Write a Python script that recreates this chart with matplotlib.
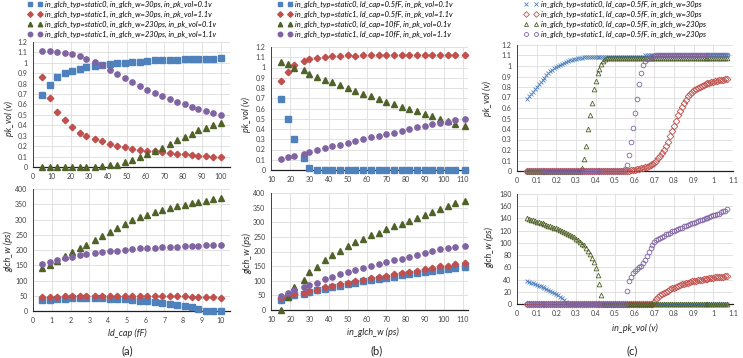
import matplotlib
matplotlib.use('Agg')
import matplotlib.pyplot as plt
from matplotlib.ticker import MultipleLocator, FuncFormatter

plt.rcParams['font.family'] = ['Lato', 'DejaVu Sans']

# ---------------- data: panel (a) ----------------
ld_cap_top = [5, 9, 13, 17, 21, 25, 28, 33, 37, 41, 45, 49, 53, 57, 61, 65, 69, 73, 77, 81, 85, 88, 92, 96, 100]
ld_cap = [0.5, 0.9, 1.3, 1.7, 2.1, 2.5, 2.8, 3.3, 3.7, 4.1, 4.5, 4.9, 5.3, 5.7, 6.1, 6.5, 6.9, 7.3, 7.7, 8.1,
          8.5, 8.8, 9.2, 9.6, 10.0]
a_pk_s0_30 = [0.69, 0.79, 0.86, 0.90, 0.92, 0.94, 0.96, 0.97, 0.98, 0.99, 1.00, 1.00, 1.01, 1.01, 1.02, 1.03, 1.03,
              1.03, 1.03, 1.04, 1.04, 1.04, 1.04, 1.04, 1.05]
a_pk_s1_30 = [0.86, 0.665, 0.53, 0.45, 0.38, 0.33, 0.295, 0.265, 0.245, 0.22, 0.20, 0.19, 0.175, 0.165, 0.155, 0.15,
              0.14, 0.13, 0.125, 0.12, 0.115, 0.11, 0.11, 0.10, 0.095]
a_pk_s0_230 = [0, 0, 0, 0, 0, 0, 0, 0.0, 0.005, 0.015, 0.02, 0.045, 0.065, 0.095, 0.12, 0.15, 0.185, 0.22, 0.26,
               0.29, 0.32, 0.355, 0.375, 0.40, 0.425]
a_pk_s1_230 = [1.11, 1.11, 1.10, 1.095, 1.08, 1.065, 1.04, 1.01, 0.975, 0.93, 0.89, 0.855, 0.82, 0.78, 0.74, 0.71,
               0.68, 0.65, 0.625, 0.60, 0.575, 0.555, 0.54, 0.52, 0.50]
a_w_s0_30 = [35, 37, 39, 40, 41, 41, 41, 41, 41, 40, 39, 38, 36, 34, 32, 30, 27, 24, 21, 17, 12, 7, 0, 0, 0]
a_w_s1_30 = [45, 46, 47, 48, 48, 49, 49, 49, 49, 49, 49, 49, 49, 49, 49, 49, 49, 49, 48, 48, 47, 47, 46, 45, 44]
a_w_s0_230 = [140, 152, 165, 180, 192, 205, 218, 233, 245, 258, 272, 285, 297, 307, 315, 323, 330, 337, 343, 348,
              353, 358, 362, 366, 370]
a_w_s1_230 = [155, 162, 168, 173, 178, 182, 186, 190, 193, 196, 198, 201, 203, 205, 207, 208, 209, 210, 211, 212,
              213, 214, 215, 216, 218]
a_labels = ['in_glch_typ=static0, in_glch_w=30ps, in_pk_vol=0.1v',
            'in_glch_typ=static1, in_glch_w=30ps, in_pk_vol=1.1v',
            'in_glch_typ=static0, in_glch_w=230ps, in_pk_vol=0.1v',
            'in_glch_typ=static1, in_glch_w=230ps, in_pk_vol=1.1v']

# ---------------- data: panel (b) ----------------
in_glch_w = [15, 19, 22, 27, 30, 34, 38, 42, 46, 50, 54, 58, 62, 66, 70, 74, 78, 82, 86, 90, 94, 98, 102, 106, 111]
b_pk_s0_05 = [0.695, 0.50, 0.30, 0.115, 0.02, 0, 0, 0, 0, 0, 0, 0, 0, 0, 0, 0, 0, 0, 0, 0, 0, 0, 0, 0, 0]
b_pk_s1_05 = [0.87, 0.96, 1.02, 1.06, 1.08, 1.09, 1.10, 1.11, 1.11, 1.12, 1.115, 1.12, 1.12, 1.12, 1.12, 1.12, 1.12,
              1.12, 1.12, 1.12, 1.12, 1.12, 1.12, 1.12, 1.12]
b_pk_s0_10 = [1.055, 1.03, 1.0, 0.975, 0.94, 0.91, 0.88, 0.855, 0.83, 0.80, 0.77, 0.745, 0.72, 0.69, 0.665, 0.64,
              0.615, 0.595, 0.575, 0.545, 0.525, 0.50, 0.475, 0.45, 0.43]
b_pk_s1_10 = [0.105, 0.125, 0.14, 0.155, 0.175, 0.195, 0.215, 0.23, 0.245, 0.265, 0.28, 0.30, 0.32, 0.335, 0.35,
              0.365, 0.38, 0.40, 0.415, 0.43, 0.445, 0.46, 0.47, 0.485, 0.50]
b_w_s0_05 = [35, 45, 50, 56, 62, 67, 73, 78, 83, 88, 93, 98, 102, 106, 110, 114, 118, 122, 126, 130, 134, 137, 140,
             143, 146]
b_w_s1_05 = [40, 48, 53, 59, 65, 70, 77, 82, 88, 93, 99, 103, 108, 113, 117, 122, 126, 131, 135, 140, 145, 149, 152,
             156, 159]
b_w_s0_10 = [0, 43, 77, 102, 130, 148, 170, 188, 202, 218, 232, 243, 255, 264, 277, 286, 295, 305, 316, 325, 336,
             345, 355, 365, 372]
b_w_s1_10 = [48, 59, 68, 77, 84, 94, 105, 114, 122, 130, 138, 144, 151, 158, 164, 170, 176, 182, 187, 195, 201, 207,
             211, 216, 220]
b_labels = ['in_glch_typ=static0, ld_cap=0.5fF, in_pk_vol=0.1v',
            'in_glch_typ=static1, ld_cap=0.5fF, in_pk_vol=1.1v',
            'in_glch_typ=static0, ld_cap=10fF, in_pk_vol=0.1v',
            'in_glch_typ=static1, ld_cap=10fF, in_pk_vol=1.1v']

# ---------------- data: panel (c) ----------------
in_pk_vol = [0.05, 0.06, 0.07, 0.08, 0.09, 0.10, 0.11, 0.12, 0.13, 0.14,
             0.15, 0.16, 0.17, 0.18, 0.19, 0.20, 0.21, 0.22, 0.23, 0.24,
             0.25, 0.26, 0.27, 0.28, 0.29, 0.30, 0.31, 0.32, 0.33, 0.34,
             0.35, 0.36, 0.37, 0.38, 0.39, 0.40, 0.41, 0.42, 0.43, 0.44,
             0.45, 0.46, 0.47, 0.48, 0.49, 0.50, 0.51, 0.52, 0.53, 0.54,
             0.55, 0.56, 0.57, 0.58, 0.59, 0.60, 0.61, 0.62, 0.63, 0.64,
             0.65, 0.66, 0.67, 0.68, 0.69, 0.70, 0.71, 0.72, 0.73, 0.74,
             0.75, 0.76, 0.77, 0.78, 0.79, 0.80, 0.81, 0.82, 0.83, 0.84,
             0.85, 0.86, 0.87, 0.88, 0.89, 0.90, 0.91, 0.92, 0.93, 0.94,
             0.95, 0.96, 0.97, 0.98, 0.99, 1.00, 1.01, 1.02, 1.03, 1.04,
             1.05, 1.06, 1.07]
c_pk_s0_30 = [0.69, 0.71, 0.73, 0.75, 0.78, 0.80, 0.83, 0.85, 0.87, 0.89,
              0.91, 0.93, 0.95, 0.96, 0.98, 0.99, 1.00, 1.01, 1.02, 1.03,
              1.04, 1.05, 1.055, 1.06, 1.065, 1.07, 1.075, 1.08, 1.08, 1.085,
              1.085, 1.09, 1.09, 1.09, 1.09, 1.09, 1.09, 1.09, 1.09, 1.09,
              1.09, 1.09, 1.09, 1.09, 1.09, 1.09, 1.09, 1.09, 1.09, 1.09,
              1.09, 1.09, 1.09, 1.09, 1.09, 1.09, 1.09, 1.09, 1.09, 1.09,
              1.10, 1.10, 1.10, 1.10, 1.10, 1.10, 1.10, 1.10, 1.10, 1.10,
              1.10, 1.10, 1.10, 1.10, 1.10, 1.10, 1.10, 1.10, 1.10, 1.10,
              1.10, 1.10, 1.10, 1.10, 1.10, 1.10, 1.10, 1.10, 1.10, 1.10,
              1.10, 1.10, 1.10, 1.10, 1.10, 1.10, 1.10, 1.10, 1.10, 1.10,
              1.10, 1.10, 1.10]
c_pk_s1_30 = [0, 0, 0, 0, 0, 0, 0, 0, 0, 0,
              0, 0, 0, 0, 0, 0, 0, 0, 0, 0,
              0, 0, 0, 0, 0, 0, 0, 0, 0, 0,
              0, 0, 0, 0, 0, 0, 0, 0, 0, 0,
              0, 0, 0, 0, 0, 0, 0, 0, 0, 0,
              0, 0, 0, 0.005, 0.01, 0.01, 0.015, 0.02, 0.025, 0.03,
              0.035, 0.04, 0.05, 0.06, 0.07, 0.08, 0.10, 0.12, 0.14, 0.17,
              0.20, 0.24, 0.28, 0.33, 0.38, 0.43, 0.48, 0.53, 0.57, 0.61,
              0.65, 0.68, 0.71, 0.73, 0.75, 0.77, 0.78, 0.79, 0.80, 0.81,
              0.82, 0.83, 0.835, 0.84, 0.845, 0.85, 0.855, 0.86, 0.865, 0.87,
              0.87, 0.875, 0.88]
c_pk_s0_230 = [0, 0, 0, 0, 0, 0, 0, 0, 0, 0,
               0, 0, 0, 0, 0, 0, 0, 0, 0, 0,
               0, 0, 0, 0, 0, 0, 0, 0, 0.03, 0.11,
               0.24, 0.40, 0.53, 0.65, 0.78, 0.86, 0.93, 0.97, 1.02, 1.05,
               1.07, 1.08, 1.08, 1.08, 1.08, 1.08, 1.08, 1.08, 1.08, 1.08,
               1.08, 1.08, 1.08, 1.08, 1.08, 1.08, 1.08, 1.08, 1.08, 1.08,
               1.08, 1.08, 1.08, 1.08, 1.08, 1.08, 1.08, 1.08, 1.08, 1.08,
               1.08, 1.08, 1.08, 1.08, 1.08, 1.08, 1.08, 1.08, 1.08, 1.08,
               1.08, 1.08, 1.08, 1.08, 1.08, 1.08, 1.08, 1.08, 1.08, 1.08,
               1.08, 1.08, 1.08, 1.08, 1.08, 1.08, 1.08, 1.08, 1.08, 1.08,
               1.08, 1.08, 1.08]
c_pk_s1_230 = [0, 0, 0, 0, 0, 0, 0, 0, 0, 0,
               0, 0, 0, 0, 0, 0, 0, 0, 0, 0,
               0, 0, 0, 0, 0, 0, 0, 0, 0, 0,
               0, 0, 0, 0, 0, 0, 0, 0, 0, 0,
               0, 0, 0, 0, 0, 0, 0, 0, 0, 0,
               0.02, 0.06, 0.15, 0.28, 0.41, 0.55, 0.69, 0.83, 0.93, 1.01,
               1.05, 1.07, 1.08, 1.09, 1.09, 1.095, 1.10, 1.10, 1.10, 1.10,
               1.10, 1.10, 1.10, 1.10, 1.10, 1.10, 1.10, 1.10, 1.10, 1.10,
               1.10, 1.10, 1.10, 1.10, 1.10, 1.10, 1.10, 1.10, 1.10, 1.10,
               1.10, 1.10, 1.10, 1.10, 1.10, 1.10, 1.10, 1.10, 1.10, 1.10,
               1.10, 1.10, 1.10]
c_w_s0_30 = [37, 36, 35, 34, 33, 31, 30, 29, 28, 26,
             25, 23, 22, 20, 18, 16, 14, 12, 10, 7,
             4, 1, 0, 0, 0, 0, 0, 0, 0, 0,
             0, 0, 0, 0, 0, 0, 0, 0, 0, 0,
             0, 0, 0, 0, 0, 0, 0, 0, 0, 0,
             0, 0, 0, 0, 0, 0, 0, 0, 0, 0,
             0, 0, 0, 0, 0, 0, 0, 0, 0, 0,
             0, 0, 0, 0, 0, 0, 0, 0, 0, 0,
             0, 0, 0, 0, 0, 0, 0, 0, 0, 0,
             0, 0, 0, 0, 0, 0, 0, 0, 0, 0,
             0, 0, 0]
c_w_s1_30 = [0, 0, 0, 0, 0, 0, 0, 0, 0, 0,
             0, 0, 0, 0, 0, 0, 0, 0, 0, 0,
             0, 0, 0, 0, 0, 0, 0, 0, 0, 0,
             0, 0, 0, 0, 0, 0, 0, 0, 0, 0,
             0, 0, 0, 0, 0, 0, 0, 0, 0, 0,
             0, 0, 0, 0, 0, 0, 0, 0, 0, 0,
             0, 0, 0, 0, 0, 3, 8, 11, 14, 16,
             18, 20, 22, 24, 26, 27, 28, 30, 31, 32,
             33, 34, 35, 36, 37, 37.5, 38, 39, 39.5, 40,
             40.5, 41, 41.5, 42, 42.5, 43, 43.5, 44, 44.5, 45,
             45, 45.5, 46]
c_w_s0_230 = [140, 139, 138, 137, 136, 135, 134, 133, 132, 131,
              129, 128, 127, 126, 125, 124, 123, 121, 120, 118,
              116, 115, 113, 111, 109, 107, 105, 102, 99, 96,
              92, 87, 82, 76, 68, 59, 47, 33, 15, 0,
              0, 0, 0, 0, 0, 0, 0, 0, 0, 0,
              0, 0, 0, 0, 0, 0, 0, 0, 0, 0,
              0, 0, 0, 0, 0, 0, 0, 0, 0, 0,
              0, 0, 0, 0, 0, 0, 0, 0, 0, 0,
              0, 0, 0, 0, 0, 0, 0, 0, 0, 0,
              0, 0, 0, 0, 0, 0, 0, 0, 0, 0,
              0, 0, 0]
c_w_s1_230 = [0, 0, 0, 0, 0, 0, 0, 0, 0, 0,
              0, 0, 0, 0, 0, 0, 0, 0, 0, 0,
              0, 0, 0, 0, 0, 0, 0, 0, 0, 0,
              0, 0, 0, 0, 0, 0, 0, 0, 0, 0,
              0, 0, 0, 0, 0, 0, 0, 0, 0, 0,
              0, 22, 37, 45, 50, 54, 57, 60, 63, 67,
              72, 78, 85, 92, 97, 101, 104, 106, 108, 110,
              112, 114, 115, 117, 119, 120, 121, 123, 124, 125,
              127, 128, 130, 131, 132, 133, 134, 136, 137, 138,
              139, 140, 141, 143, 144, 145, 146, 147, 148, 150,
              152, 153, 155]
c_labels = ['in_glch_typ=static0, ld_cap=0.5fF, in_glch_w=30ps',
            'in_glch_typ=static1, ld_cap=0.5fF, in_glch_w=30ps',
            'in_glch_typ=static0, ld_cap=0.5fF, in_glch_w=230ps',
            'in_glch_typ=static1, ld_cap=0.5fF, in_glch_w=230ps']

# ---------------- styling ----------------
BLUE, RED, GREEN, PURPLE = '#4F81BD', '#C0504D', '#4F6228', '#8064A2'
W, H = 743, 358
fig = plt.figure(figsize=(W / 100, H / 100), dpi=100)


def add_ax(left, right, top, bottom):
    return fig.add_axes([left / W, 1 - bottom / H, (right - left) / W, (bottom - top) / H])


fmt = FuncFormatter(lambda v, p: '%g' % round(v, 6))


def style(ax, xlim, xstep, ylim, ystep):
    ax.set_xlim(*xlim)
    ax.set_ylim(*ylim)
    ax.xaxis.set_major_locator(MultipleLocator(xstep))
    ax.yaxis.set_major_locator(MultipleLocator(ystep))
    ax.xaxis.set_major_formatter(fmt)
    ax.yaxis.set_major_formatter(fmt)
    ax.grid(True, color='#DDDDDD', lw=0.6)
    ax.set_axisbelow(True)
    for s in ['top', 'right']:
        ax.spines[s].set_visible(False)
    ax.spines['left'].set_color('#404040')
    ax.spines['bottom'].set_color('#202020')
    ax.spines['left'].set_linewidth(0.7)
    ax.spines['bottom'].set_linewidth(0.9)
    ax.tick_params(length=0, labelsize=5, colors='#404040', pad=4)


def filled(ax, x, ys):
    hs = []
    for y, m, c in zip(ys, ['s', 'D', '^', 'o'], [BLUE, RED, GREEN, PURPLE]):
        ms = 3.3 if m == 'D' else 3.8
        h, = ax.plot(x, y, ls='none', marker=m, ms=ms, color=c, mec=c, clip_on=False, zorder=3)
        hs.append(h)
    return hs


def hollow(ax, x, ys):
    hs = []
    for y, m, c in zip(ys, ['x', 'D', '^', 'o'], [BLUE, RED, GREEN, PURPLE]):
        h, = ax.plot(x, y, ls='none', marker=m, ms=3.4, mfc='none', mec=c, mew=0.6,
                     clip_on=False, zorder=3)
        hs.append(h)
    return hs


def legend(ax, hs, labels, x_px, y_px):
    ax.legend(hs, labels, loc='upper left', bbox_to_anchor=(x_px / W, 1 - y_px / H),
              bbox_transform=fig.transFigure, frameon=False, numpoints=2, markerscale=0.85,
              prop={'size': 5.4, 'style': 'italic'}, handlelength=1.9, handletextpad=0.4,
              labelspacing=0.38, borderpad=0, borderaxespad=0)


lab = dict(fontsize=6.5, style='italic', color='#262626', ha='center', va='center')

# panel (a)
ax = add_ax(33, 230, 42, 167)
style(ax, (0, 105), 10, (0, 1.2), 0.1)
hs = filled(ax, ld_cap_top, [a_pk_s0_30, a_pk_s1_30, a_pk_s0_230, a_pk_s1_230])
legend(ax, hs, a_labels, 28, 1)
ax = add_ax(33, 230, 189, 311)
style(ax, (0, 10.5), 1, (0, 400), 50)
filled(ax, ld_cap, [a_w_s0_30, a_w_s1_30, a_w_s0_230, a_w_s1_230])
fig.text(9 / W, 1 - 118 / H, 'pk_vol (v)', rotation=90, **lab)
fig.text(8 / W, 1 - 252 / H, 'glch_w (ps)', rotation=90, **lab)
fig.text(127 / W, 1 - 333 / H, 'ld_cap (fF)', **lab)

# panel (b)
ax = add_ax(271, 468, 47, 170)
style(ax, (10, 112.6), 10, (0, 1.2), 0.1)
hs = filled(ax, in_glch_w, [b_pk_s0_05, b_pk_s1_05, b_pk_s0_10, b_pk_s1_10])
legend(ax, hs, b_labels, 278, 1)
ax = add_ax(271, 468, 193, 310)
style(ax, (10, 112.6), 10, (0, 400), 50)
filled(ax, in_glch_w, [b_w_s0_05, b_w_s1_05, b_w_s0_10, b_w_s1_10])
fig.text(246 / W, 1 - 115 / H, 'pk_vol (v)', rotation=90, **lab)
fig.text(247 / W, 1 - 253 / H, 'glch_w (ps)', rotation=90, **lab)
fig.text(373 / W, 1 - 332 / H, 'in_glch_w (ps)', **lab)

# panel (c)
ax = add_ax(517, 733, 45, 171)
style(ax, (0, 1.1), 0.1, (0, 1.2), 0.1)
hs = hollow(ax, in_pk_vol, [c_pk_s0_30, c_pk_s1_30, c_pk_s0_230, c_pk_s1_230])
legend(ax, hs, c_labels, 524, 1)
ax = add_ax(517, 733, 194, 304)
style(ax, (0, 1.1), 0.1, (0, 180), 20)
hollow(ax, in_pk_vol, [c_w_s0_30, c_w_s1_30, c_w_s0_230, c_w_s1_230])
fig.text(487 / W, 1 - 98 / H, 'pk_vol (v)', rotation=90, **lab)
fig.text(489 / W, 1 - 247 / H, 'glch_w (ps)', rotation=90, **lab)
fig.text(635 / W, 1 - 328 / H, 'in_pk_vol (v)', **lab)

for t, x in [('(a)', 127), ('(b)', 377), ('(c)', 632)]:
    fig.text(x / W, 1 - 351 / H, t, fontsize=8, color='#262626', ha='center', va='center')

fig.savefig('out.png', dpi=100)
